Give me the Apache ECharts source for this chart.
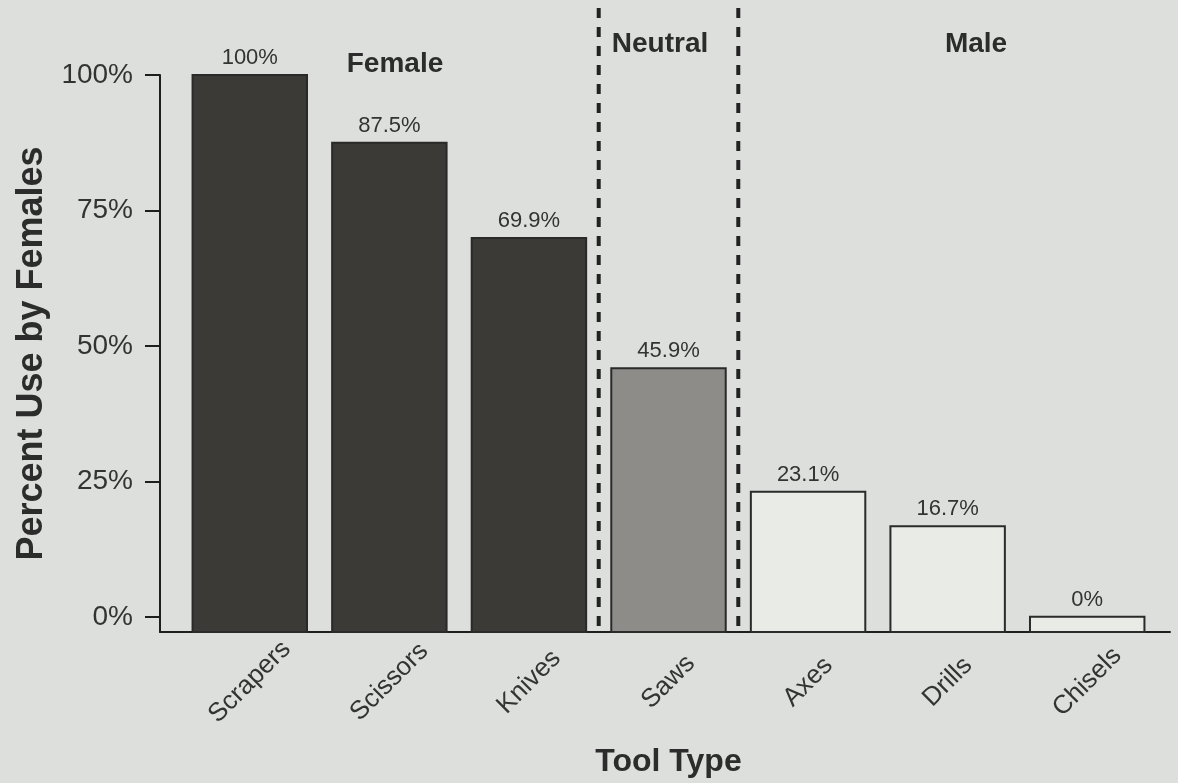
<!DOCTYPE html>
<html>
<head>
<meta charset="utf-8">
<title>Percent Use by Females</title>
<script src="https://cdn.jsdelivr.net/npm/echarts@6.0.0/dist/echarts.min.js"></script>
<style>
  html, body { margin: 0; padding: 0; background: #dcdfdb; }
  #chart { width: 1178px; height: 783px; }
</style>
</head>
<body>
<div id="chart"></div>
<script>
const tools = ['Scrapers', 'Scissors', 'Knives', 'Saws', 'Axes', 'Drills', 'Chisels'];
const femaleUse = [100, 87.5, 69.9, 45.9, 23.1, 16.7, 0];
const toolGroup = ['Female', 'Female', 'Female', 'Neutral', 'Male', 'Male', 'Male'];
const yTicks = [0, 25, 50, 75, 100];

const groupFill = { Female: '#3c3a37', Neutral: '#8e8c88', Male: '#e9ebe7' };
const font = "'Liberation Sans', Arial, sans-serif";
const ink = '#2c2c2c';

// baseline of the plot sits a little under 0%
const yFloor = -2.8;

const chart = echarts.init(document.getElementById('chart'));

const option = {
  backgroundColor: '#dcdfdb',
  textStyle: { fontFamily: font },
  grid: [
    // bars (taller, so the group dividers reach the top of the page)
    { left: 180, right: 21, top: 8, bottom: 151, outerBoundsMode: 'none' },
    // frame: y axis + long baseline
    { left: 160, right: 8, top: 75, bottom: 151, outerBoundsMode: 'none' }
  ],
  xAxis: [
    {
      type: 'category',
      gridIndex: 0,
      data: tools,
      axisLine: { show: false },
      axisTick: { show: false },
      axisLabel: {
        rotate: 45,
        align: 'center',
        verticalAlign: 'middle',
        margin: 50,
        fontSize: 26,
        color: '#333',
        fontFamily: font
      },
      splitLine: { show: false },
      name: 'Tool Type',
      nameLocation: 'middle',
      nameGap: 114,
      nameTextStyle: { fontSize: 32, fontWeight: 'bold', color: ink, fontFamily: font }
    },
    {
      type: 'category',
      gridIndex: 1,
      data: [''],
      axisLine: { onZero: false, lineStyle: { color: '#1e1e1e', width: 2 } },
      axisTick: { show: false },
      axisLabel: { show: false }
    }
  ],
  yAxis: [
    {
      type: 'value',
      gridIndex: 0,
      min: yFloor,
      max: 112.37,
      show: false
    },
    {
      type: 'value',
      gridIndex: 1,
      min: yFloor,
      max: 100,
      axisLine: { show: true, onZero: false, lineStyle: { color: '#1e1e1e', width: 2 } },
      axisTick: {
        show: true,
        customValues: yTicks,
        length: 15,
        lineStyle: { color: '#1e1e1e', width: 2 }
      },
      axisLabel: {
        customValues: yTicks,
        formatter: '{value}%',
        fontSize: 28,
        margin: 27,
        color: '#333',
        fontFamily: font
      },
      splitLine: { show: false },
      name: 'Percent Use by Females',
      nameLocation: 'middle',
      nameGap: 107,
      nameTextStyle: { fontSize: 36, fontWeight: 'bold', color: ink, fontFamily: font }
    }
  ],
  graphic: [
    { type: 'text', x: 395, y: 64, style: { text: 'Female', font: 'bold 28px ' + font, fill: ink, align: 'center', verticalAlign: 'middle' } },
    { type: 'text', x: 660, y: 44, style: { text: 'Neutral', font: 'bold 28px ' + font, fill: ink, align: 'center', verticalAlign: 'middle' } },
    { type: 'text', x: 976, y: 44, style: { text: 'Male', font: 'bold 28px ' + font, fill: ink, align: 'center', verticalAlign: 'middle' } }
  ],
  series: [
    {
      type: 'custom',
      xAxisIndex: 0,
      yAxisIndex: 0,
      data: femaleUse.map((v, i) => [i, v]),
      encode: { x: 0, y: 1 },
      renderItem: (params, api) => {
        const i = api.value(0);
        const v = api.value(1);
        const top = api.coord([i, v]);
        const base = api.coord([i, yFloor]);
        const band = api.size([1, 0])[0];
        const w = band * 0.82;
        const children = [
          {
            type: 'rect',
            shape: { x: top[0] - w / 2, y: top[1], width: w, height: base[1] - top[1] },
            style: { fill: groupFill[toolGroup[i]], stroke: '#2a2a2a', lineWidth: 2 }
          },
          {
            type: 'text',
            x: top[0],
            y: top[1] - 6,
            style: {
              text: v + '%',
              font: '22px ' + font,
              fill: '#333',
              align: 'center',
              verticalAlign: 'bottom'
            }
          }
        ];
        // dashed divider where the group changes
        if (i > 0 && toolGroup[i] !== toolGroup[i - 1]) {
          const dx = top[0] - band / 2;
          children.push({
            type: 'line',
            shape: { x1: dx, y1: params.coordSys.y, x2: dx, y2: base[1] },
            style: { stroke: '#222', lineWidth: 4, lineDash: [10, 9] }
          });
        }
        return { type: 'group', children: children };
      }
    }
  ]
};

chart.setOption(option);
</script>
</body>
</html>
